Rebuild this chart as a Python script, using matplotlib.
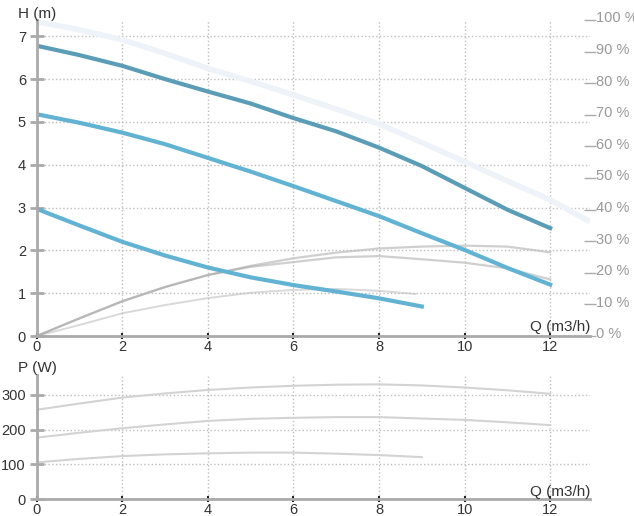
import numpy as np
import matplotlib
matplotlib.use("Agg")
import matplotlib.pyplot as plt
from matplotlib.transforms import ScaledTranslation

plt.rcParams['font.family'] = ['Liberation Sans', 'DejaVu Sans']

# ---- data (Q in m3/h) ----
q_full = [0, 1, 2, 3, 4, 5, 6, 7, 8, 9, 10, 11, 12]
q_low = [0, 1, 2, 3, 4, 5, 6, 7, 8, 9]

# head curves H (m)
h_max_speed = [6.78, 6.56, 6.31, 6.00, 5.71, 5.43, 5.09, 4.78, 4.40, 3.97, 3.46, 2.95, 2.52]
h_mid_speed = [5.18, 4.98, 4.75, 4.48, 4.16, 3.84, 3.50, 3.15, 2.80, 2.40, 2.01, 1.59, 1.20]
h_low_speed = [2.97, 2.58, 2.20, 1.88, 1.60, 1.37, 1.19, 1.04, 0.88, 0.69]

# faint envelope curve H (m)
q_band = [0, 1, 2, 3, 4, 5, 6, 7, 8, 9, 10, 11, 12, 12.93]
h_band = [7.34, 7.15, 6.92, 6.60, 6.25, 5.95, 5.63, 5.30, 4.95, 4.52, 4.07, 3.62, 3.18, 2.67]

# efficiency curves (%)
eff_max = [0, 5.6, 11.0, 15.5, 19.3, 22.2, 24.6, 26.4, 27.7, 28.3, 28.6, 28.3, 26.5]
eff_mid = [0, 5.6, 11.0, 15.5, 19.3, 21.9, 23.4, 24.9, 25.3, 24.3, 23.2, 21.4, 17.9]
q_eff_low = [0, 1, 2, 3, 4, 5, 6, 7, 8, 8.85]
eff_low = [0, 3.5, 7.2, 9.8, 12.0, 13.7, 14.6, 14.9, 14.3, 13.3]

# power curves P (W)
p_max = [257, 275, 292, 304, 314, 321, 326, 329, 330, 327, 321, 313, 303]
p_mid = [177, 191, 204, 215, 225, 231, 234, 236, 236, 232, 228, 221, 213]
p_low = [106, 116, 124, 129, 132, 134, 134, 131, 127, 121]

x_ticks = [0, 2, 4, 6, 8, 10, 12]
h_ticks = [0, 1, 2, 3, 4, 5, 6, 7]
pct_ticks = list(range(0, 101, 10))
p_ticks = [0, 100, 200, 300]

dark_blue = '#5b9db6'
light_blue = '#62b3d3'
grid_kw = dict(linestyle=':', color='#bdbdbd', linewidth=1)


def style_axes(ax, xlabel_txt):
    for s in ['top', 'right']:
        ax.spines[s].set_visible(False)
    for s in ['left', 'bottom']:
        ax.spines[s].set_color('#aaaaaa')
        ax.spines[s].set_linewidth(2)
    ax.tick_params(axis='y', direction='inout', length=9.5, width=2,
                   color='#aaaaaa', labelcolor='#333333', labelsize=10.5, pad=3)
    ax.tick_params(axis='x', direction='inout', length=5, width=1.5,
                   color='#222222', labelcolor='#333333', labelsize=10.5, pad=0.5)
    ax.grid(True, **grid_kw)
    ax.text(1.0, 0.005, xlabel_txt, transform=ax.transAxes, ha='right', va='bottom',
            fontsize=11, color='#333333')


fig = plt.figure(figsize=(6.34, 5.16), dpi=100)

# ---------------- head chart ----------------
ax = fig.add_axes([0.0579, 0.3488, 0.8727, 0.6124])
ax2 = ax.twinx()
ax.set_zorder(ax2.get_zorder() + 1)
ax.patch.set_visible(False)
ax2.patch.set_visible(True)
ax2.patch.set_facecolor('white')

ax.plot(q_band, h_band, color='#edf3f8', linewidth=4, solid_capstyle='butt')
ax.plot(q_full, h_max_speed, color=dark_blue, linewidth=3)
ax.plot(q_full, h_mid_speed, color=light_blue, linewidth=3)
ax.plot(q_low, h_low_speed, color=light_blue, linewidth=3)

ax2.plot(q_full, eff_max, color='#a0a0a0', alpha=0.5, linewidth=1.6)
ax2.plot(q_full, eff_mid, color='#a0a0a0', alpha=0.5, linewidth=1.6)
ax2.plot(q_eff_low, eff_low, color='#a0a0a0', alpha=0.4, linewidth=1.4)

ax.set_xlim(0, 12.93)
ax.set_ylim(0, 7.38)
ax.set_xticks(x_ticks)
ax.set_yticks(h_ticks)
style_axes(ax, 'Q (m3/h)')

ax2.set_ylim(0, 100)
ax2.set_yticks(pct_ticks)
ax2.set_yticklabels([f'{v} %' for v in pct_ticks])
for s in ax2.spines.values():
    s.set_visible(False)
ax2.tick_params(axis='y', direction='inout', length=8.6, width=1, color='#aaaaaa',
                labelcolor='#999999', labelsize=10.5, pad=0)
offset = ScaledTranslation(0, 2.2 / 72, fig.dpi_scale_trans)
for lab in ax2.get_yticklabels():
    lab.set_transform(lab.get_transform() + offset)

fig.text(18 / 634, 1 - 14 / 516, 'H (m)', ha='left', va='center', fontsize=11, color='#333333')

# ---------------- power chart ----------------
axp = fig.add_axes([0.0579, 0.0324, 0.8727, 0.2409])
axp.plot(q_full, p_max, color='#d3d3d3', linewidth=1.5)
axp.plot(q_full, p_mid, color='#d3d3d3', linewidth=1.5)
axp.plot(q_low, p_low, color='#d3d3d3', linewidth=1.5)
axp.set_xlim(0, 12.93)
axp.set_ylim(0, 357)
axp.set_xticks(x_ticks)
axp.set_yticks(p_ticks)
style_axes(axp, 'Q (m3/h)')

fig.text(18 / 634, 1 - 368 / 516, 'P (W)', ha='left', va='center', fontsize=11, color='#333333')

fig.savefig('out.png', dpi=100)
